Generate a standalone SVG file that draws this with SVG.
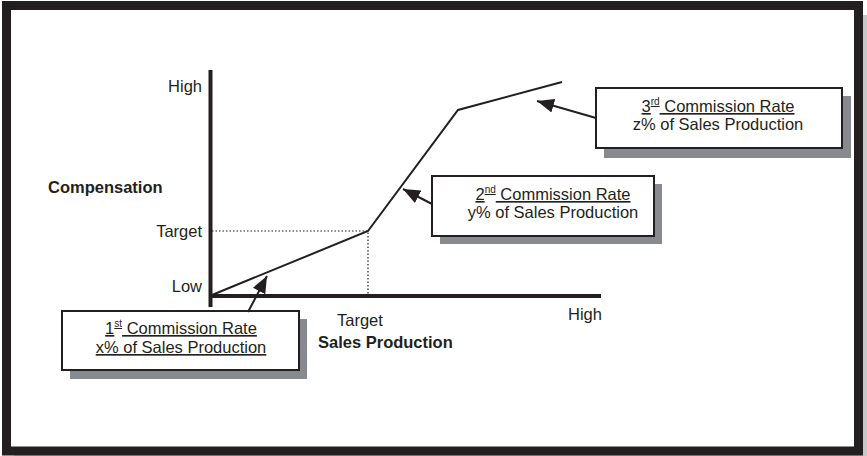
<svg xmlns="http://www.w3.org/2000/svg" width="867" height="456" viewBox="0 0 867 456">
<style>
text{font-family:"Liberation Sans",Arial,sans-serif;font-size:16.5px;fill:#231f20}
.b{font-weight:bold}
.r{text-anchor:end}
.c{text-anchor:middle}
.u{text-decoration:underline}
.sup{font-size:10px}
.box{fill:#fff;stroke:#231f20;stroke-width:2}
.shadow{fill:#878a8f}
.ln{fill:none;stroke:#231f20;stroke-width:2}
.dot{fill:none;stroke:#231f20;stroke-width:1.2;stroke-dasharray:1.5 2}
</style>
<defs>
<marker id="ah" markerUnits="userSpaceOnUse" markerWidth="18" markerHeight="14" refX="17" refY="7" orient="auto">
<path d="M0,0 L17,7 L0,14 z" fill="#231f20"/>
</marker>
</defs>
<g id="frame">
<rect x="14" y="15" width="853" height="441" fill="#c8c8c8"/>
<rect x="6.5" y="5.5" width="852" height="445.5" fill="#fff" stroke="#231f20" stroke-width="9"/>
</g>
<g id="axes">
<line x1="210.5" y1="70" x2="210.5" y2="307" stroke="#231f20" stroke-width="4"/>
<line x1="209" y1="296" x2="601" y2="296" stroke="#231f20" stroke-width="4"/>
<polyline class="dot" points="212,231 368,231 368,294"/>
</g>
<g id="axis-labels">
<text class="r" x="202" y="92">High</text>
<text class="r" x="202" y="237">Target</text>
<text class="r" x="202" y="292">Low</text>
<text class="b" x="48" y="193">Compensation</text>
<text x="337" y="326">Target</text>
<text x="568" y="320">High</text>
<text class="b" x="318" y="348">Sales Production</text>
</g>
<g id="curve">
<polyline class="ln" points="212,295 368,231 458,110 562,82"/>
</g>
<g id="box1">
<rect class="shadow" x="70" y="319" width="237" height="60"/>
<rect class="box" x="62" y="311" width="237" height="59"/>
<text class="c u" x="181" y="334">1<tspan class="sup" dy="-7">st</tspan><tspan dy="7"> Commission Rate</tspan></text>
<text class="c u" x="181" y="353">x% of Sales Production</text>
</g>
<g id="box2">
<rect class="shadow" x="440" y="184" width="222" height="60"/>
<rect class="box" x="432" y="176" width="222" height="60"/>
<text class="c" x="553" y="200"><tspan class="u">2<tspan class="sup" dy="-7">nd</tspan><tspan dy="7"> Commission Rate</tspan></tspan></text>
<text class="c" x="553" y="218">y% of Sales Production</text>
</g>
<g id="box3">
<rect class="shadow" x="604" y="96" width="247" height="62"/>
<rect class="box" x="596" y="88" width="246" height="60"/>
<text class="c" x="718" y="112"><tspan class="u">3<tspan class="sup" dy="-7">rd</tspan><tspan dy="7"> Commission Rate</tspan></tspan></text>
<text class="c" x="718" y="130">z% of Sales Production</text>
</g>
<g id="connectors">
<line class="ln" x1="248" y1="312" x2="267" y2="276" marker-end="url(#ah)"/>
<line class="ln" x1="432" y1="204" x2="403" y2="189" marker-end="url(#ah)"/>
<line class="ln" x1="596" y1="118" x2="537" y2="101" marker-end="url(#ah)"/>
</g>
</svg>
